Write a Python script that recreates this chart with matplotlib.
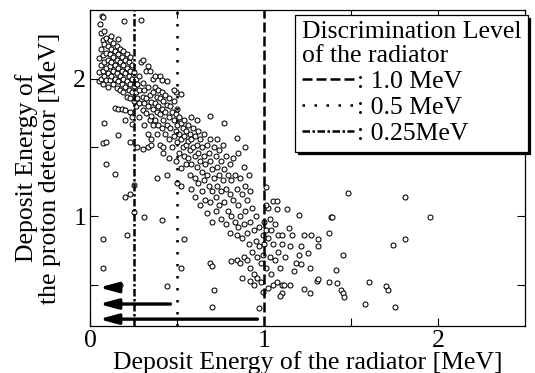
import numpy as np
import matplotlib.pyplot as plt
from matplotlib.lines import Line2D

plt.rcParams['font.family'] = ['Liberation Serif', 'DejaVu Serif']

# (radiator energy, proton detector energy) in MeV
upper_cluster = [
    (0.05, 2.15), (0.05, 2.05), (0.05, 1.98), (0.06, 2.22), (0.06, 2.10), (0.06, 2.00),
    (0.07, 2.28), (0.07, 2.17), (0.07, 2.06), (0.07, 1.96), (0.08, 2.25), (0.08, 2.12),
    (0.08, 2.02), (0.09, 2.30), (0.09, 2.19), (0.09, 2.08), (0.09, 1.99), (0.10, 2.24),
    (0.10, 2.14), (0.10, 2.04), (0.10, 1.94), (0.11, 2.28), (0.11, 2.18), (0.11, 2.09),
    (0.11, 1.99), (0.12, 2.22), (0.12, 2.12), (0.12, 2.02), (0.13, 2.26), (0.13, 2.16),
    (0.13, 2.06), (0.13, 1.96), (0.14, 2.20), (0.14, 2.10), (0.14, 2.00), (0.15, 2.24),
    (0.15, 2.14), (0.15, 2.04), (0.15, 1.93), (0.16, 2.18), (0.16, 2.08), (0.16, 1.98),
    (0.17, 2.22), (0.17, 2.12), (0.17, 2.02), (0.17, 1.92), (0.18, 2.16), (0.18, 2.06),
    (0.18, 1.96), (0.19, 2.20), (0.19, 2.10), (0.19, 2.00), (0.19, 1.90), (0.20, 2.14),
    (0.20, 2.04), (0.20, 1.94), (0.21, 2.18), (0.21, 2.08), (0.21, 1.98), (0.21, 1.87),
    (0.22, 2.12), (0.22, 2.02), (0.22, 1.92), (0.23, 2.16), (0.23, 2.06), (0.23, 1.96),
    (0.23, 1.86), (0.24, 2.10), (0.24, 2.00), (0.24, 1.90), (0.25, 2.05), (0.25, 1.95),
    (0.25, 1.84), (0.26, 2.00), (0.26, 1.90), (0.26, 1.80), (0.27, 1.96), (0.27, 1.86),
    (0.28, 2.02), (0.28, 1.92), (0.28, 1.82), (0.28, 1.72), (0.14, 1.79), (0.16, 1.78),
    (0.18, 1.78), (0.20, 1.77), (0.23, 1.76), (0.20, 1.70), (0.24, 1.72),
    (0.06, 2.33), (0.12, 2.31), (0.16, 2.29), (0.08, 2.35), (0.055, 2.40), (0.065, 2.46),
    (0.074, 2.45), (0.192, 2.42), (0.29, 2.43),
]

middle_band = [
    (0.29, 2.12), (0.30, 1.97), (0.30, 1.87), (0.30, 1.77), (0.31, 1.92), (0.31, 1.82),
    (0.31, 1.66), (0.32, 2.06), (0.32, 1.86), (0.32, 1.75), (0.33, 1.94), (0.33, 1.80),
    (0.33, 1.60), (0.34, 1.88), (0.34, 1.70), (0.35, 1.83), (0.35, 1.73), (0.35, 1.56),
    (0.36, 2.00), (0.36, 1.90), (0.36, 1.78), (0.36, 1.66), (0.30, 2.14), (0.33, 2.09),
    (0.34, 2.06), (0.37, 2.02), (0.40, 2.02), (0.41, 1.99), (0.44, 1.98),
    (0.37, 1.94), (0.37, 1.82), (0.37, 1.70), (0.38, 1.87), (0.38, 1.76), (0.38, 1.60),
    (0.39, 1.92), (0.39, 1.80), (0.39, 1.66), (0.40, 1.86), (0.40, 1.74), (0.40, 1.52),
    (0.41, 1.90), (0.41, 1.78), (0.41, 1.64), (0.42, 1.84), (0.42, 1.70), (0.42, 1.50),
    (0.43, 1.88), (0.43, 1.76), (0.43, 1.60), (0.44, 1.81), (0.44, 1.66), (0.45, 1.86),
    (0.45, 1.72), (0.45, 1.56), (0.45, 1.42), (0.27, 1.50), (0.30, 1.49), (0.33, 1.50),
    (0.35, 1.52), (0.46, 1.80), (0.46, 1.64), (0.47, 1.76), (0.47, 1.50), (0.48, 1.84),
    (0.48, 1.70), (0.48, 1.58), (0.49, 1.74), (0.49, 1.62), (0.49, 1.40), (0.50, 1.78),
    (0.50, 1.66), (0.50, 1.54), (0.51, 1.72), (0.51, 1.60), (0.51, 1.46), (0.52, 1.68),
    (0.52, 1.56), (0.52, 1.35), (0.53, 1.64), (0.53, 1.50), (0.54, 1.70), (0.54, 1.58),
    (0.54, 1.44), (0.55, 1.62), (0.55, 1.52), (0.55, 1.38), (0.49, 1.90), (0.48, 1.92),
    (0.52, 1.89), (0.50, 1.24), (0.52, 1.22), (0.44, 1.30), (0.38, 1.28), (0.42, 1.46),
    (0.56, 1.66), (0.56, 1.55), (0.56, 1.42), (0.57, 1.60), (0.57, 1.48), (0.57, 1.30),
    (0.58, 1.72), (0.58, 1.56), (0.58, 1.38), (0.58, 1.20), (0.59, 1.64), (0.59, 1.50),
    (0.60, 1.58), (0.60, 1.44), (0.60, 1.28), (0.60, 1.14), (0.61, 1.70), (0.61, 1.52),
    (0.61, 1.36), (0.62, 1.62), (0.62, 1.46), (0.62, 1.24), (0.63, 1.56), (0.63, 1.40),
    (0.63, 1.08), (0.64, 1.50), (0.64, 1.32), (0.64, 1.18), (0.65, 1.60), (0.65, 1.44),
    (0.65, 1.26), (0.69, 1.73), (0.77, 1.68),
]

lower_band = [
    (0.66, 1.38), (0.66, 1.12), (0.67, 1.52), (0.67, 1.30), (0.67, 1.02), (0.68, 1.46),
    (0.68, 1.22), (0.69, 1.56), (0.69, 1.40), (0.69, 1.10), (0.70, 1.34), (0.70, 1.18),
    (0.70, 0.96), (0.71, 1.50), (0.71, 1.28), (0.72, 1.44), (0.72, 1.14), (0.72, 1.04),
    (0.73, 1.56), (0.73, 1.36), (0.73, 1.22), (0.74, 1.48), (0.74, 1.30), (0.74, 1.08),
    (0.75, 1.40), (0.75, 1.18), (0.75, 0.98), (0.76, 1.52), (0.76, 1.26), (0.77, 1.34),
    (0.77, 1.10), (0.78, 1.44), (0.78, 1.20), (0.78, 0.94), (0.79, 1.30), (0.79, 1.04),
    (0.80, 1.38), (0.80, 1.16), (0.80, 0.88), (0.81, 1.26), (0.81, 1.00), (0.82, 1.42),
    (0.82, 1.12), (0.83, 1.30), (0.83, 0.96), (0.84, 1.20), (0.84, 0.86), (0.85, 1.46),
    (0.85, 1.08), (0.85, 0.92), (0.86, 1.28), (0.86, 1.00), (0.87, 1.16), (0.87, 0.84),
    (0.88, 1.36), (0.88, 0.94), (0.89, 1.22), (0.89, 1.04), (0.90, 1.12), (0.90, 0.88),
    (0.91, 1.30), (0.91, 0.80), (0.92, 1.18), (0.92, 0.96), (0.93, 1.06), (0.93, 0.74),
    (0.94, 0.90), (0.95, 1.00), (0.95, 0.82), (0.96, 0.70), (0.84, 1.57), (0.89, 1.50),
    (0.97, 0.92), (0.97, 0.78), (0.98, 0.66), (0.99, 0.86), (0.99, 0.72), (1.00, 0.96),
    (1.00, 0.80), (1.01, 0.90), (1.01, 0.62), (1.02, 1.06), (1.02, 0.84), (1.03, 0.98),
    (1.03, 0.70), (1.04, 0.90), (1.04, 0.58), (1.05, 0.80), (1.06, 0.94), (1.06, 0.68),
    (1.07, 0.52), (1.08, 0.86), (1.08, 0.74), (1.09, 0.62), (1.10, 0.80), (1.10, 0.50),
    (0.84, 0.68), (0.86, 0.66), (0.88, 0.70), (0.90, 0.68), (0.92, 0.62), (0.94, 0.58),
    (0.96, 0.55), (0.98, 0.52), (0.94, 0.50), (0.92, 0.53), (0.81, 0.67), (0.87, 0.55),
    (0.69, 0.66), (0.70, 0.64), (1.01, 1.21), (1.05, 1.11), (1.01, 1.08),
]

scattered = [
    (1.48, 1.17), (1.81, 1.14), (1.95, 0.99), (1.81, 0.83), (1.74, 0.79), (1.45, 0.72),
    (1.38, 0.99), (1.39, 0.99), (1.20, 1.01), (1.37, 0.88), (1.31, 0.83), (1.31, 0.78),
    (1.27, 0.86), (1.23, 0.86), (1.21, 0.78), (1.20, 0.72), (1.25, 0.73), (1.18, 0.66),
    (1.21, 0.65), (1.14, 0.91), (1.16, 0.86), (1.10, 0.86), (1.07, 1.05), (1.13, 1.05),
    (1.07, 1.11), (1.41, 0.61), (1.37, 0.52), (1.42, 0.51), (1.44, 0.46), (1.45, 0.44),
    (1.46, 0.41), (1.30, 0.53), (1.31, 0.54), (1.60, 0.52), (1.70, 0.49), (1.71, 0.46),
    (1.58, 0.36), (1.75, 0.34), (1.23, 0.47), (1.26, 0.44), (1.15, 0.50), (1.11, 0.50),
    (1.10, 0.44), (1.09, 0.42), (1.05, 0.50), (1.02, 0.48), (0.99, 0.45), (0.97, 0.33),
    (0.70, 0.34), (0.71, 0.46), (0.52, 0.62), (0.44, 0.49), (0.54, 0.83), (0.41, 0.97),
    (0.31, 0.99), (0.21, 0.86), (0.17, 0.50), (0.07, 0.83), (0.07, 0.62), (0.20, 1.14),
    (0.23, 1.16), (0.25, 1.23), (0.25, 1.03), (0.14, 1.31), (0.09, 1.38), (0.07, 1.53),
    (0.09, 1.54), (0.08, 1.68), (0.16, 1.59), (0.23, 1.54), (0.24, 1.67), (1.15, 0.78),
    (1.12, 0.70), (1.17, 0.60), (1.26, 0.62),
]

levels = [1.0, 0.5, 0.25]
level_labels = [': 1.0 MeV', ': 0.5 MeV', ': 0.25MeV']
level_styles = [(0, (4, 1.6)), (0, (1, 3.8)), (0, (3, 1, 1, 1))]

# arrows showing the energy rejected by each discrimination level
arrow_y = [0.48, 0.36, 0.25]
arrow_start = [0.16, 0.46, 0.96]
arrow_tip = 0.05

fig = plt.figure(figsize=(5.35, 3.73), dpi=100)
ax = fig.add_axes([0.169, 0.126, 0.813, 0.847])

pts = np.array(upper_cluster + middle_band + lower_band + scattered)
ax.scatter(pts[:, 0], pts[:, 1], s=13, facecolors='white', edgecolors='black',
           linewidths=0.75, zorder=3)

handles = []
for lv, st in zip(levels, level_styles):
    ax.axvline(lv, color='black', lw=1.8, linestyle=st, zorder=4)
    handles.append(Line2D([], [], color='black', lw=1.8, linestyle=st))

for y, x0 in zip(arrow_y, arrow_start):
    ax.annotate('', xy=(arrow_tip, y), xytext=(x0, y),
                arrowprops=dict(arrowstyle='-|>,head_length=1.1,head_width=0.3',
                                lw=2.4, color='black', shrinkA=0, shrinkB=0),
                zorder=5)

ax.set_xlim(0, 2.5)
ax.set_ylim(0.2, 2.5)
ax.set_xticks([0, 0.5, 1, 1.5, 2])
ax.set_xticklabels(['0', '', '1', '', '2'])
ax.set_yticks([0.5, 1, 1.5, 2])
ax.set_yticklabels(['', '1', '', '2'])
ax.tick_params(direction='in', length=6, width=0.8, top=True, right=True,
               labelsize=18.5, pad=3)
for sp in ax.spines.values():
    sp.set_linewidth(0.9)

ax.set_xlabel('Deposit Energy of the radiator [MeV]', fontsize=18.5, labelpad=-1)
ax.set_ylabel('Deposit Energy of\nthe proton detector [MeV]', fontsize=18.5,
              labelpad=9, linespacing=1.05)

leg = ax.legend(handles, level_labels, title='Discrimination Level\nof the radiator',
                loc='upper right', bbox_to_anchor=(1.005, 0.985), borderaxespad=0,
                fontsize=18.5, title_fontsize=18.5, handlelength=2.05,
                handletextpad=0.1, labelspacing=0.12, borderpad=0.25,
                fancybox=False, edgecolor='black', framealpha=1,
                shadow={'color': 'black', 'alpha': 1})
leg._legend_box.align = 'left'
leg.get_title().set_linespacing(1.1)
leg.get_frame().set_linewidth(0.9)
leg.set_zorder(10)

fig.savefig('out.png', dpi=100)
